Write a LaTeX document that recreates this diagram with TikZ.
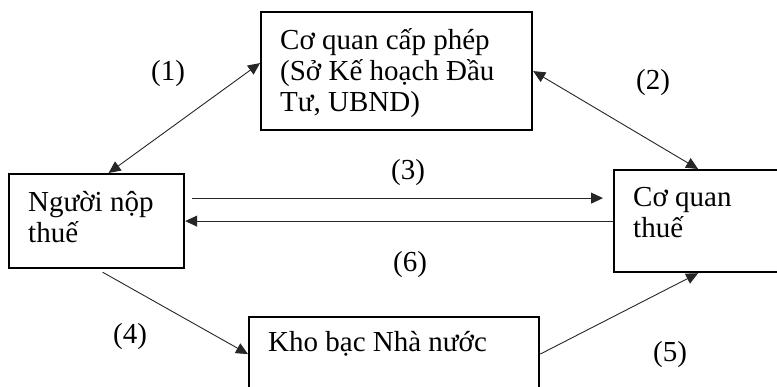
\documentclass[tikz,border=0pt]{standalone}
\usepackage{fontspec}
\setmainfont{Liberation Serif}
\usetikzlibrary{arrows.meta}
\begin{document}
\begin{tikzpicture}[x=1pt,y=-1pt,
 box/.style={draw, line width=2.2pt, rectangle, inner sep=0pt, anchor=north west},
 txt/.style={font=\fontsize{29}{31}\selectfont, inner sep=0pt, align=left, anchor=base west},
 lbl/.style={font=\fontsize{29}{31}\selectfont, inner sep=0pt},
 arr/.style={line width=0.9pt, draw=black!85, -{Triangle[length=12pt,width=11pt]}},
 darr/.style={line width=0.9pt, draw=black!85, {Triangle[length=12pt,width=11pt]}-{Triangle[length=12pt,width=11pt]}}]
\useasboundingbox (0,0) rectangle (777,387);
\node[box, minimum width=271pt, minimum height=118pt] (cqcp) at (260,11) {};
\node[box, minimum width=175pt, minimum height=94pt] (np) at (8,173) {};
\node[box, minimum width=200pt, minimum height=102pt] (tax) at (613,169) {};
\node[box, minimum width=290pt, minimum height=120pt] (kho) at (248,316) {};
\node[txt] (t1) at (280,112) {Cơ quan cấp phép\\(Sở Kế hoạch Đầu\\Tư, UBND)};
\node[txt] (t2) at (28,243) {Người nộp\\thuế};
\node[txt] (t3) at (633,238) {Cơ quan\\thuế};
\node[txt] (t4) at (268,352) {Kho bạc Nhà nước};
\node[lbl] (l1) at (168,74) {(1)};
\node[lbl] (l2) at (653,83) {(2)};
\node[lbl] (l3) at (408,173) {(3)};
\node[lbl] (l6) at (410,265) {(6)};
\node[lbl] (l4) at (130,337) {(4)};
\node[lbl] (l5) at (670,355) {(5)};
\draw[darr] ([xshift=12pt]np.north) -- ([yshift=8pt]cqcp.west);
\draw[darr] (cqcp.east) -- ([xshift=-16pt]tax.north);
\draw[arr] ([shift={(7,-23)}]np.east) -- ([shift={(-10,-23)}]tax.west);
\draw[arr] (tax.west) -- (np.east);
\draw[arr] ([xshift=6pt,yshift=-3pt]np.south) -- ([yshift=23pt]kho.west);
\draw[arr] ([yshift=23pt]kho.east) -- ([xshift=-16pt]tax.south);
\end{tikzpicture}
\end{document}
